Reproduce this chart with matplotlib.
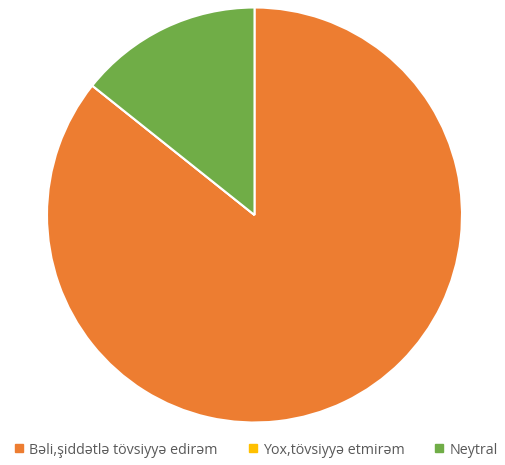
import matplotlib.pyplot as plt
from matplotlib.lines import Line2D

# Survey answers and their counts
labels = ['Bəli,şiddətlə tövsiyyə edirəm', 'Yox,tövsiyyə etmirəm', 'Neytral']
counts = [6, 0, 1]
colors = ['#ED7D31', '#FFC000', '#70AD47']

plt.rcParams['font.family'] = ['Open Sans', 'DejaVu Sans']

W, H = 505, 465
fig = plt.figure(figsize=(W / 100, H / 100), dpi=100)

# pie centred at (254.5, 215) px with radius 207.5 px
cx, cy, r = 254.5, 215, 207.5
ax = fig.add_axes([(cx - r) / W, (H - cy - r) / H, 2 * r / W, 2 * r / H])
ax.pie(counts, colors=colors, startangle=90, counterclock=False,
       radius=1, wedgeprops=dict(edgecolor='white', linewidth=1.5))
ax.set_xlim(-1.0, 1.0)
ax.set_ylim(-1.0, 1.0)
ax.set_aspect('equal')
ax.axis('off')

handles = [Line2D([], [], marker='s', linestyle='none', markersize=5.5,
                  markerfacecolor=c, markeredgecolor=c) for c in colors]
fig.legend(handles, labels, loc='center', bbox_to_anchor=(0.508, 1 - 450 / H),
           ncol=3, frameon=False, fontsize=10.3, labelcolor='#595959',
           handlelength=0.5, handletextpad=0.45, columnspacing=2.2,
           borderpad=0)

fig.savefig('out.png', dpi=100)
